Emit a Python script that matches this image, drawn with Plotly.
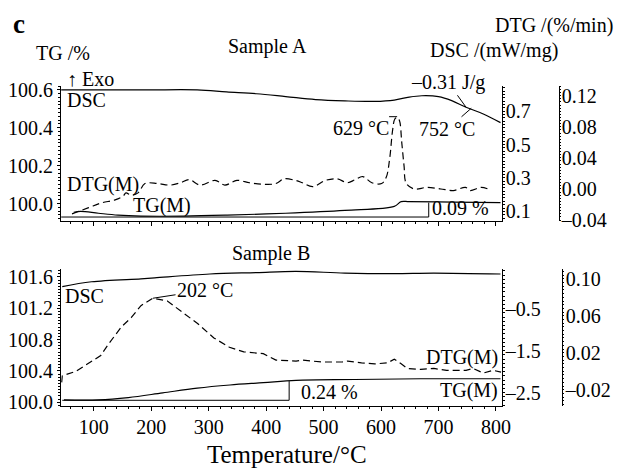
import plotly.graph_objects as go

W, H = 626, 472
FONT = "Liberation Serif"


def px(x):
    return x / W


def py(y):
    return 1 - y / H


# ---------------- Sample A (top panel) ----------------
a_dsc_T = [43, 108, 194, 280, 331, 383, 434, 486, 537, 589, 623, 649, 671, 700, 723, 748, 778, 808]
a_dsc_v = [0.827, 0.827, 0.827, 0.827, 0.815, 0.804, 0.787, 0.769, 0.761, 0.758, 0.766, 0.784,
           0.792, 0.787, 0.763, 0.723, 0.683, 0.631]

a_tg_T = [65, 77, 108, 142, 182, 257, 332, 434, 537, 623, 635, 649, 726, 808]
a_tg_v = [99.954, 99.959, 99.949, 99.939, 99.934, 99.934, 99.939, 99.949, 99.964, 99.985,
          100.010, 100.010, 100.008, 100.005]

a_dtg_T = [62, 91, 113, 137, 151, 156, 165, 177, 189, 211, 233, 251, 266, 285, 311, 328, 349,
           371, 395, 417, 431, 451, 463, 481, 503, 524, 541, 555, 568, 584, 601, 609, 615, 620,
           624, 628, 632, 636, 640, 644, 658, 680, 704, 726, 747, 755, 774, 786]
a_dtg_v = [-0.032, -0.024, -0.018, -0.014, -0.009, -0.005, -0.008, -0.005, 0.007, 0.007, 0.005,
           0.008, 0.012, 0.005, 0.011, 0.005, 0.011, 0.008, 0.006, 0.007, 0.013, 0.011, 0.008,
           0.003, 0.011, 0.013, 0.008, 0.012, 0.016, 0.008, 0.007, 0.015, 0.039, 0.075, 0.090,
           0.092, 0.088, 0.060, 0.030, 0.007, 0.000, 0.002, 0.000, -0.002, 0.002, -0.002, 0.002,
           0.000]

a_ref_T = [43, 683]
a_ref_v = [99.929, 99.929]
a_step_T = [683, 683]
a_step_v = [99.929, 100.005]
a_peak_T = [614, 628]
a_peak_v = [0.093, 0.093]

# ---------------- Sample B (bottom panel) ----------------
b_dsc_T = [45, 96, 182, 206, 302, 383, 452, 537, 623, 692, 808]
b_dsc_v = [0.029, 0.144, 0.213, 0.236, 0.328, 0.362, 0.390, 0.351, 0.339, 0.351, 0.328]

b_tg_T = [48, 108, 160, 220, 280, 337, 395, 452, 554, 669, 808]
b_tg_v = [100.03, 100.03, 100.06, 100.12, 100.18, 100.22, 100.25, 100.28, 100.29, 100.30, 100.30]

b_dtg_T = [44, 45, 69, 96, 112, 125, 148, 165, 182, 203, 228, 258, 280, 309, 336, 361, 395, 417,
           452, 463, 498, 532, 542, 566, 589, 611, 623, 635, 646, 669, 692, 714, 748, 760, 778,
           795, 809]
b_dtg_v = [-0.012, -0.005, 0.000, 0.011, 0.017, 0.029, 0.048, 0.058, 0.071, 0.079, 0.076, 0.062,
           0.052, 0.036, 0.026, 0.021, 0.019, 0.012, 0.011, 0.012, 0.010, 0.010, 0.011, 0.009,
           0.008, 0.009, 0.013, 0.008, 0.003, 0.002, 0.003, 0.001, 0.001, 0.003, -0.002, 0.001,
           -0.001]

b_ref_T = [45, 440]
b_ref_v = [100.025, 100.025]
b_step_T = [440, 440]
b_step_v = [100.025, 100.27]

# ---------------- tick labels ----------------
x_ticks = [100, 200, 300, 400, 500, 600, 700, 800]
a_tg_ticks = [100.0, 100.2, 100.4, 100.6]
a_dsc_ticks = [0.1, 0.3, 0.5, 0.7]
a_dtg_ticks = [-0.04, 0.00, 0.04, 0.08, 0.12]
a_dtg_text = ["\u20130.04", "0.00", "0.04", "0.08", "0.12"]
b_tg_ticks = [100.0, 100.4, 100.8, 101.2, 101.6]
b_dsc_ticks = [-2.5, -1.5, -0.5]
b_dsc_text = ["\u20132.5", "\u20131.5", "\u20130.5"]
b_dtg_ticks = [-0.02, 0.02, 0.06, 0.10]
b_dtg_text = ["\u20130.02", "0.02", "0.06", "0.10"]

LW = 1.2
solid = dict(color="black", width=LW)
dashed = dict(color="black", width=LW, dash="7px,4px")

fig = go.Figure()
# top panel
fig.add_trace(go.Scatter(x=a_dsc_T, y=a_dsc_v, xaxis="x", yaxis="y2", mode="lines", line=solid, line_shape="spline"))
fig.add_trace(go.Scatter(x=a_tg_T, y=a_tg_v, xaxis="x", yaxis="y", mode="lines", line=solid, line_shape="spline"))
fig.add_trace(go.Scatter(x=a_dtg_T, y=a_dtg_v, xaxis="x", yaxis="y3", mode="lines", line=dashed, line_shape="spline"))
fig.add_trace(go.Scatter(x=a_ref_T, y=a_ref_v, xaxis="x", yaxis="y", mode="lines", line=dict(color="black", width=1)))
fig.add_trace(go.Scatter(x=a_step_T, y=a_step_v, xaxis="x", yaxis="y", mode="lines", line=dict(color="black", width=1)))
fig.add_trace(go.Scatter(x=a_peak_T, y=a_peak_v, xaxis="x", yaxis="y3", mode="lines", line=dict(color="black", width=1)))
# bottom panel
fig.add_trace(go.Scatter(x=b_dsc_T, y=b_dsc_v, xaxis="x2", yaxis="y5", mode="lines", line=solid, line_shape="spline"))
fig.add_trace(go.Scatter(x=b_tg_T, y=b_tg_v, xaxis="x2", yaxis="y4", mode="lines", line=solid, line_shape="spline"))
fig.add_trace(go.Scatter(x=b_dtg_T, y=b_dtg_v, xaxis="x2", yaxis="y6", mode="lines", line=dashed))
fig.add_trace(go.Scatter(x=b_ref_T, y=b_ref_v, xaxis="x2", yaxis="y4", mode="lines", line=dict(color="black", width=1)))
fig.add_trace(go.Scatter(x=b_step_T, y=b_step_v, xaxis="x2", yaxis="y4", mode="lines", line=dict(color="black", width=1)))

TS = 20
tickfont = dict(family=FONT, size=TS, color="black")
common = dict(showline=True, linecolor="black", linewidth=1, showgrid=False, zeroline=False,
              ticks="outside", tickcolor="black", tickfont=tickfont)

xdom = [px(62), px(509)]
xr = [43, 810]

fig.update_layout(
    width=W, height=H,
    margin=dict(l=0, r=0, t=0, b=0),
    paper_bgcolor="white", plot_bgcolor="white",
    showlegend=False,
    font=dict(family=FONT, color="black", size=TS),
    xaxis=dict(domain=xdom, range=xr, anchor="y", tickvals=x_ticks, ticklen=4,
               showticklabels=False,
               minor=dict(ticks="outside", ticklen=2, dtick=20, tick0=0, tickcolor="black"), **common),
    yaxis=dict(domain=[py(222), py(82)], range=[99.908, 100.620], anchor="x",
               tickvals=a_tg_ticks, tickformat=".1f", ticklen=3,
               minor=dict(ticks="outside", ticklen=2, dtick=0.02, tick0=100, tickcolor="black"), **common),
    yaxis2=dict(overlaying="y", anchor="x", side="right", range=[0.0423, 0.850],
                tickvals=a_dsc_ticks, tickformat=".1f", ticklen=2, ticklabelstandoff=-3,
                minor=dict(ticks="outside", ticklen=2, dtick=0.02, tick0=0, tickcolor="black"), **common),
    yaxis3=dict(overlaying="y", anchor="free", position=px(567), side="right",
                range=[-0.0412, 0.1324], tickvals=a_dtg_ticks, ticktext=a_dtg_text, ticklen=1,
                ticklabelstandoff=-3,
                minor=dict(ticks="outside", ticklen=1, dtick=0.004, tick0=0, tickcolor="black"), **common),
    xaxis2=dict(domain=xdom, range=xr, anchor="y4", tickvals=x_ticks, ticklen=4, ticklabelstandoff=-1,
                minor=dict(ticks="outside", ticklen=2, dtick=20, tick0=0, tickcolor="black"),
                **common),
    yaxis4=dict(domain=[py(414), py(272)], range=[99.951, 101.698], anchor="x2",
                tickvals=b_tg_ticks, tickformat=".1f", ticklen=3,
                minor=dict(ticks="outside", ticklen=2, dtick=0.04, tick0=100, tickcolor="black"), **common),
    yaxis5=dict(overlaying="y4", anchor="x2", side="right", range=[-2.822, 0.4425],
                tickvals=b_dsc_ticks, ticktext=b_dsc_text, ticklen=2, ticklabelstandoff=-3,
                minor=dict(ticks="outside", ticklen=2, dtick=0.1, tick0=0, tickcolor="black"), **common),
    yaxis6=dict(overlaying="y4", anchor="free", position=px(570), side="right",
                range=[-0.0377, 0.1104], tickvals=b_dtg_ticks, ticktext=b_dtg_text, ticklen=1,
                ticklabelstandoff=-2,
                minor=dict(ticks="outside", ticklen=1, dtick=0.004, tick0=0, tickcolor="black"), **common),
)


def label(text, x, y, xanchor="left", size=TS, bold=False):
    fig.add_annotation(text=f"<b>{text}</b>" if bold else text, x=px(x), y=py(y), xref="paper", yref="paper",
                       xanchor=xanchor, yanchor="middle", showarrow=False,
                       font=dict(family=FONT, size=size, color="black"))


label("c", 11, 18, size=27, bold=True)
label("TG /%", 34, 48)
label("Sample A", 271, 41, xanchor="center")
label("DTG /(%/min)", 624, 19, xanchor="right")
label("DSC /(mW/mg)", 568, 45, xanchor="right")
label("\u2191 Exo", 66, 75)
label("DSC", 66, 96)
label("DTG(M)", 66, 184)
label("TG(M)", 133, 206)
label("629 \u00b0C", 397, 126, xanchor="right")
label("0.09 %", 436, 209)
label("Sample B", 275, 256, xanchor="center")
label("DSC", 64, 300)
label("DTG(M)", 507, 364, xanchor="right")
label("TG(M)", 507, 398, xanchor="right")
label("0.24 %", 303, 399)
label("Temperature/\u00b0C", 291, 464, xanchor="center", size=25)


def leader(text, x, y, xref, yref, ax, ay):
    fig.add_annotation(text=text, x=x, y=y, xref=xref, yref=yref, ax=ax, ay=ay,
                       showarrow=True, arrowhead=0, arrowwidth=1, arrowcolor="black",
                       font=dict(family=FONT, size=TS, color="black"))


leader("\u20130.31 J/g", 748, 0.723, "x", "y2", -18, -25)
leader("752 \u00b0C", 757, 0.717, "x", "y2", -24, 21)
leader("202 \u00b0C", 203, 0.079, "x2", "y6", 52, -8)

fig.write_html("out.html", config={"displayModeBar": False},
               post_script="document.body.style.margin='0';")
